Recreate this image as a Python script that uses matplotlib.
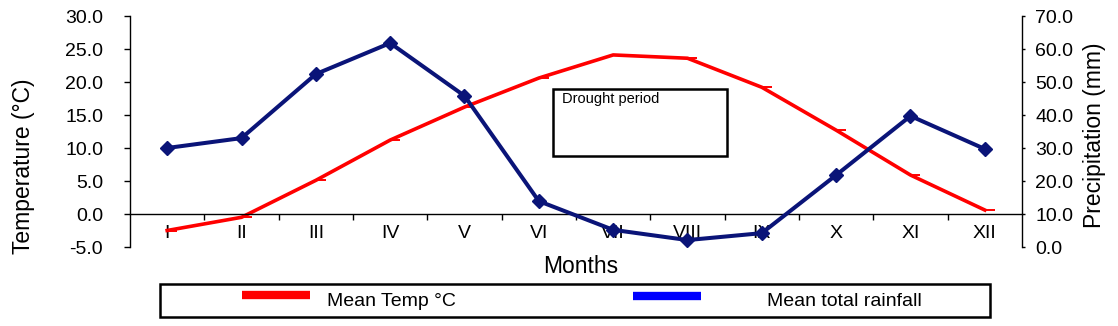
import matplotlib.pyplot as plt
from matplotlib.lines import Line2D
from matplotlib.patches import Rectangle
from matplotlib.path import Path
from matplotlib.ticker import FormatStrFormatter, FixedLocator

plt.rcParams['font.family'] = ['Liberation Sans', 'DejaVu Sans']

months = ['I', 'II', 'III', 'IV', 'V', 'VI', 'VII', 'VIII', 'IX', 'X', 'XI', 'XII']
mean_temp = [-2.5, -0.5, 5.1, 11.2, 16.2, 20.6, 24.1, 23.6, 19.2, 12.7, 5.9, 0.6]
mean_rain = [30.0, 33.0, 52.4, 61.8, 45.8, 13.9, 5.2, 2.1, 4.2, 21.8, 39.7, 29.7]

RED = '#ff0000'
NAVY = '#0a1478'

fig = plt.figure(figsize=(11.18, 3.26), dpi=100)
ax = fig.add_axes([0.11628, 0.24233, 0.91413 - 0.11628, 0.95092 - 0.24233])
ax2 = ax.twinx()

x = list(range(len(months)))

# excel style dash marker sticking out to the right
dash = Path([(0, 0), (1, 0)], [Path.MOVETO, Path.LINETO])
ax.plot(x, mean_temp, color=RED, lw=2.6, marker=dash, markersize=14,
        markeredgewidth=1.4, solid_joinstyle='round')
ax2.plot(x, mean_rain, color=NAVY, lw=2.9, marker='D', markersize=7.5,
         markeredgewidth=1, solid_joinstyle='round')

ax.set_xlim(-0.5, len(months) - 0.5)
ax.set_ylim(-5, 30)
ax2.set_ylim(0, 70)

ax.set_yticks([-5, 0, 5, 10, 15, 20, 25, 30])
ax2.set_yticks([0, 10, 20, 30, 40, 50, 60, 70])
ax.yaxis.set_major_formatter(FormatStrFormatter('%.1f'))
ax2.yaxis.set_major_formatter(FormatStrFormatter('%.1f'))

ax.set_xticks(x)
ax.set_xticklabels(months)
ax.xaxis.set_minor_locator(FixedLocator([i + 0.5 for i in x[:-1]]))
ax.tick_params(axis='x', which='major', length=0, pad=8, labelsize=14)
ax.tick_params(axis='x', which='minor', length=4, width=1, direction='out')
ax.tick_params(axis='y', length=4.3, width=1, pad=15, labelsize=14, direction='out')
ax2.tick_params(axis='y', length=2.5, width=1, pad=7, labelsize=14, direction='out')

ax.spines['bottom'].set_position(('data', 0))
for s in ['top', 'right']:
    ax.spines[s].set_visible(False)
for s in ['top', 'bottom', 'left']:
    ax2.spines[s].set_visible(False)
for a in (ax, ax2):
    for s in a.spines.values():
        s.set_linewidth(1)

# drought period box
ax.add_patch(Rectangle((0.4742, 0.394), 0.6693 - 0.4742, 0.684 - 0.394,
                       transform=ax.transAxes, fill=False, lw=1.8, ec='black',
                       zorder=5))
ax.text(0.4843, 0.672, 'Drought period', transform=ax.transAxes,
        fontsize=10.5, va='top', ha='left', zorder=6)

fig.text(0.5197, 0.181, 'Months', fontsize=16.5, ha='center', va='center')
fig.text(0.0206, 0.491, 'Temperature (°C)', fontsize=16.5, rotation=90,
         ha='center', va='center')
fig.text(0.9794, 0.586, 'Precipitation (mm)', fontsize=16.5, rotation=90,
         ha='center', va='center')

# legend box drawn by hand to get excel spacing
fig.patches.append(Rectangle((0.1431, 0.0276), 0.7424, 0.1012,
                             transform=fig.transFigure, fill=False,
                             lw=1.8, ec='black'))
fig.add_artist(Line2D([242 / 1118, 310 / 1118], [0.0951, 0.0951],
                      color=RED, lw=6, solid_capstyle='butt'))
fig.text(327 / 1118, 0.074, 'Mean Temp °C', fontsize=14, ha='left', va='center')
fig.add_artist(Line2D([633 / 1118, 701 / 1118], [0.0920, 0.0920],
                      color='#0000ff', lw=6, solid_capstyle='butt'))
fig.text(767 / 1118, 0.074, 'Mean total rainfall', fontsize=14, ha='left', va='center')

plt.savefig('out.png', dpi=100)
